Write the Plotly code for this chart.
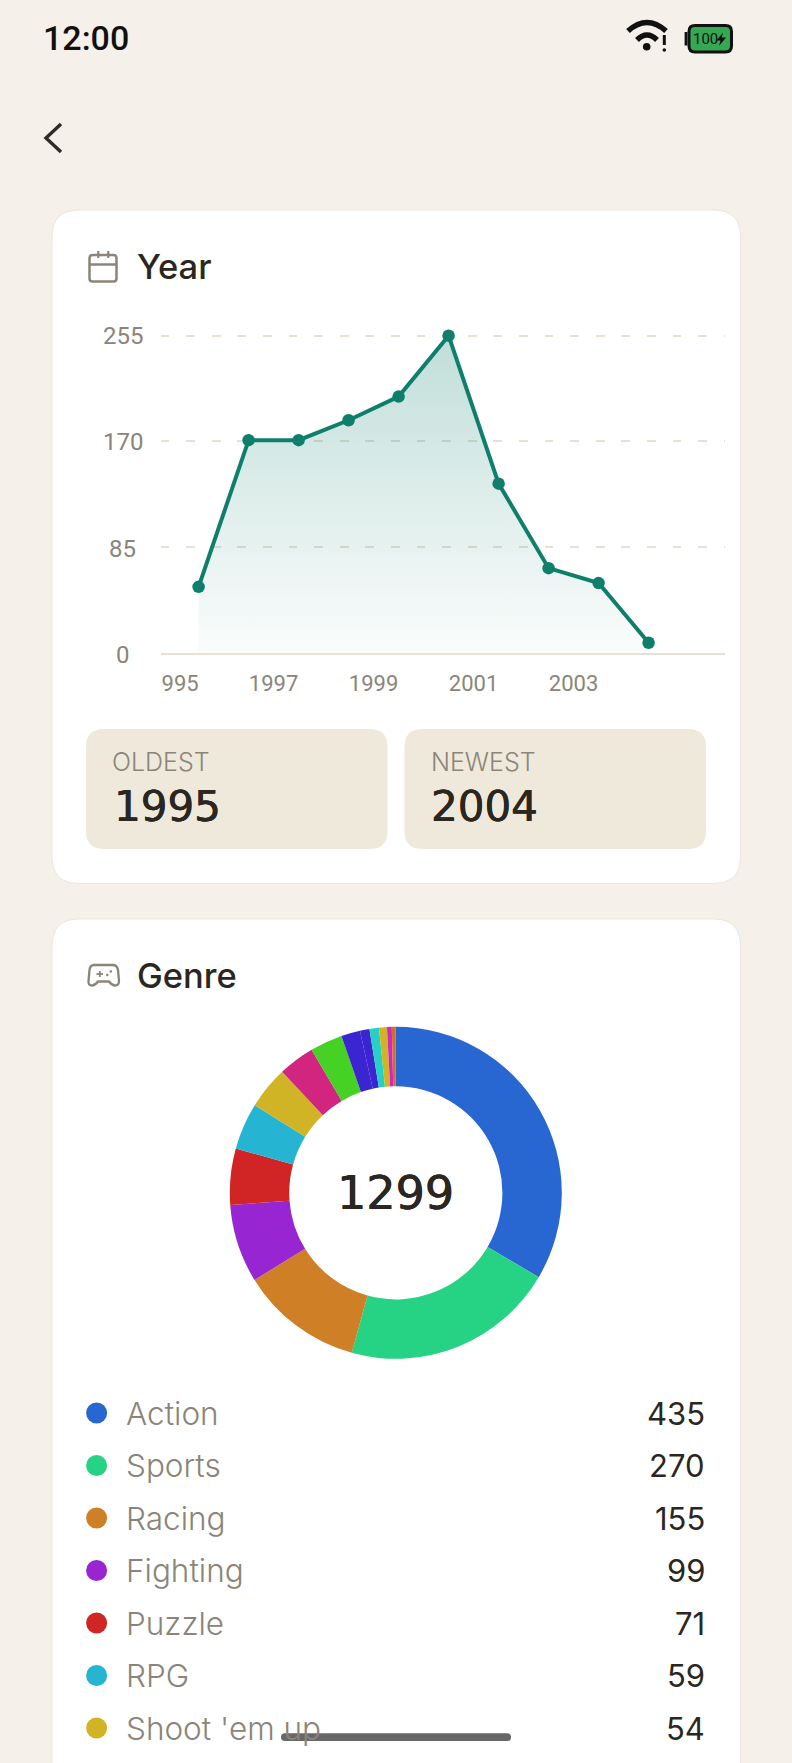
import plotly.graph_objects as go

W, H = 792, 1763

# ---------- data ----------
years = [1995, 1996, 1997, 1998, 1999, 2000, 2001, 2002, 2003, 2004]
year_counts = [53, 171, 171, 187, 206, 255, 136, 68, 56, 8]
y_ticks = [0, 85, 170, 255]
x_tick_labels = ["995", "1997", "1999", "2001", "2003"]
x_tick_vals = [1994.63, 1996.5, 1998.5, 2000.5, 2002.5]

genre_names = ["Action", "Sports", "Racing", "Fighting", "Puzzle", "RPG", "Shoot 'em up"]
genre_values = [435, 270, 155, 99, 71, 59, 54]
other_values = [46, 41, 24, 12, 12, 10, 6, 5]
genre_colors = ["#2867d2", "#26d385", "#cf7f25", "#9725d1", "#d12525", "#25b4d1", "#d1b425"]
other_colors = ["#d1257f", "#46d125", "#3a25d1", "#3a25d1", "#25d1c4", "#d1b425", "#d125c4", "#d17025"]
total_label = "1299"

# ---------- styles ----------
BG = "#f5f1ea"
BORDER = "#ece6d9"
TILE = "#efe9dc"
DARK = "#2b2720"
MUTED = "#8a8578"
GRID = "#e8e0d2"
TEAL = "#0f7f6c"
THICK = "0.4px 0 0 #2b2720, -0.3px 0 0 #2b2720"


def px(x):
    return x / W


def py(y):
    return 1 - y / H


def P(x, y):
    return f"{px(x):.6f},{py(y):.6f}"


def rrect(x0, y0, x1, y1, r):
    return (
        f"M{P(x0 + r, y0)} L{P(x1 - r, y0)} Q{P(x1, y0)} {P(x1, y0 + r)} "
        f"L{P(x1, y1 - r)} Q{P(x1, y1)} {P(x1 - r, y1)} "
        f"L{P(x0 + r, y1)} Q{P(x0, y1)} {P(x0, y1 - r)} "
        f"L{P(x0, y0 + r)} Q{P(x0, y0)} {P(x0 + r, y0)} Z"
    )


shapes = []


def path(d, fill=None, line=None, width=0, layer="below"):
    shapes.append(dict(
        type="path", xref="paper", yref="paper", path=d, layer=layer,
        fillcolor=fill or "rgba(0,0,0,0)",
        line=dict(color=line or "rgba(0,0,0,0)", width=width),
    ))


def stroke(width, color, *pts):
    d = "M" + " L".join(P(*p) for p in pts)
    path(d, line=color, width=width)


def curve(width, color, a, c, b):
    path(f"M{P(*a)} Q{P(*c)} {P(*b)}", line=color, width=width)


def circle(cx, cy, r, color):
    path(
        f"M{P(cx - r, cy)} Q{P(cx - r, cy - r)} {P(cx, cy - r)} Q{P(cx + r, cy - r)} {P(cx + r, cy)} "
        f"Q{P(cx + r, cy + r)} {P(cx, cy + r)} Q{P(cx - r, cy + r)} {P(cx - r, cy)} Z",
        fill=color,
    )


# cards and tiles
path(rrect(52, 210, 740.5, 883.5, 27), fill="white", line=BORDER, width=1)
path(rrect(52, 919, 740.5, 1810, 27), fill="white", line=BORDER, width=1)
path(rrect(86, 729, 387.5, 849, 18), fill=TILE)
path(rrect(404.5, 729, 706, 849, 18), fill=TILE)

# back chevron
stroke(3.4, "#2f2b26", (61, 124), (46, 138), (61, 152))

# wifi
curve(5.5, "#111", (628, 31), (647, 14), (666, 31))
curve(5.5, "#111", (637, 40), (647, 30), (657, 40))
circle(646.7, 46.7, 3.8, "#111")
stroke(3, "#111", (664.3, 35), (664.3, 45))
circle(664.3, 50, 1.8, "#111")

# battery
path(rrect(689, 25.5, 731.5, 52, 6), fill="#34a853", line="#111", width=3)
stroke(2.8, "#111", (686, 32), (686, 45.5))
path(f"M{P(723, 32.5)} L{P(716.5, 40.5)} L{P(720.5, 40.5)} L{P(719, 46)} L{P(726, 37.5)} L{P(721.8, 37.5)} Z", fill="#111")

# calendar icon
path(rrect(89.5, 255, 116.5, 281.5, 3), line=MUTED, width=2.5)
stroke(2.5, MUTED, (89.5, 264.5), (116.5, 264.5))
stroke(2.2, MUTED, (98.3, 251), (98.3, 258))
stroke(2.2, MUTED, (108.3, 251), (108.3, 258))

# gamepad icon
path(
    f"M{P(94, 965)} L{P(113, 965)} Q{P(117, 965)} {P(118, 970)} L{P(119, 981)} "
    f"Q{P(119, 985.5)} {P(115, 985.5)} Q{P(112, 985.5)} {P(109, 981.5)} L{P(98, 981.5)} "
    f"Q{P(95, 985.5)} {P(92, 985.5)} Q{P(88, 985.5)} {P(88.5, 981)} L{P(89.5, 970)} "
    f"Q{P(90, 965)} {P(94, 965)} Z",
    line=MUTED, width=2.3,
)
stroke(1.8, MUTED, (96.5, 974), (103, 974))
stroke(1.8, MUTED, (99.8, 971), (99.8, 977))
circle(107.3, 975, 1.3, MUTED)
circle(110.8, 971.5, 1.3, MUTED)

# home indicator
shapes.append(dict(
    type="path", xref="paper", yref="paper", layer="above",
    path=rrect(281, 1733.3, 511, 1741, 3.8), fillcolor="#5f5f5f", opacity=0.95,
    line=dict(width=0),
))

annotations = []


def text(s, x, y, size, color=DARK, family="Inter", weight=400, anchor="left", shadow=None):
    font = dict(family=family, size=size, color=color, weight=weight)
    if shadow:
        font["shadow"] = shadow
    annotations.append(dict(
        text=s, x=px(x), y=py(y), xref="paper", yref="paper", showarrow=False,
        xanchor=anchor, yanchor="middle", borderpad=0, font=font,
    ))


text("12:00", 41.5, 38.5, 34, "#111", "Roboto", 500)
text("100", 705.5, 39, 15, "#111", "Roboto", 400, "center")
text("Year", 136, 266.5, 34.5, DARK, "Inter", 500)
text("Genre", 136, 975.5, 34.5, DARK, "Inter", 500)
text("OLDEST", 110.5, 761.5, 25, MUTED, "Inter", 300)
text("NEWEST", 429.5, 761.5, 25, MUTED, "Inter", 300)
text("1995", 113, 806, 42, DARK, "DejaVu Sans", 400, shadow=THICK)
text("2004", 430, 806, 42, DARK, "DejaVu Sans", 400, shadow=THICK)
text(total_label, 395.8, 1193, 46, DARK, "DejaVu Sans", 400, "center", shadow=THICK)

# y tick labels are centred in their gutter and spread slightly wider than the grid
for v in y_ticks:
    annotations.append(dict(
        text=str(v), x=px(122.5), y=v, xref="paper", yref="y", showarrow=False,
        xanchor="center", yanchor="middle", borderpad=0,
        yshift=-(255 - v) / 255 * 2.3,
        font=dict(family="Roboto", size=24, color=MUTED),
    ))

# ---------- figure ----------
fig = go.Figure()

fig.add_trace(go.Scatter(
    x=years, y=year_counts, mode="lines+markers", fill="tozeroy",
    line=dict(color=TEAL, width=4),
    marker=dict(color=TEAL, size=12.5),
    fillgradient=dict(
        type="vertical", start=0, stop=255,
        colorscale=[[0, "rgba(15,127,108,0.02)"], [1, "rgba(15,127,108,0.26)"]],
    ),
    cliponaxis=False, hoverinfo="skip", showlegend=False,
))

CX, CY, R = 395.8, 1192.8, 166
fig.add_trace(go.Pie(
    values=genre_values + other_values,
    marker=dict(colors=genre_colors + other_colors, line=dict(width=0)),
    hole=0.642, sort=False, direction="clockwise", rotation=0,
    textinfo="none", hoverinfo="skip", showlegend=False,
    domain=dict(x=[px(CX - R), px(CX + R)], y=[py(CY + R), py(CY - R)]),
))

# legend rows on their own hidden axes
row_idx = list(range(len(genre_names)))
fig.add_trace(go.Scatter(
    x=[96.6] * len(genre_names), y=row_idx, mode="markers",
    marker=dict(color=genre_colors, size=21, line=dict(width=0)),
    xaxis="x2", yaxis="y2", cliponaxis=False, hoverinfo="skip", showlegend=False,
))
for i, (name, val) in enumerate(zip(genre_names, genre_values)):
    annotations.append(dict(
        text=name, x=124.5, y=i, xref="x2", yref="y2", showarrow=False,
        xanchor="left", yanchor="middle", borderpad=0,
        font=dict(family="Inter", size=31.5, color=MUTED, weight=300),
    ))
    annotations.append(dict(
        text=str(val), x=705.5, y=i, xref="x2", yref="y2", showarrow=False,
        xanchor="right", yanchor="middle", borderpad=0,
        font=dict(family="Inter", size=31, color=DARK, weight=400),
    ))

x_left, x_right = 160.6, 724.7
per_year = 50.0
px_per_unit = (652.7 - 335.7) / 255
y_top = 262
fig.update_layout(
    width=W, height=H, margin=dict(l=0, r=0, t=0, b=0),
    paper_bgcolor=BG, plot_bgcolor="rgba(0,0,0,0)", showlegend=False,
    shapes=shapes, annotations=annotations, hovermode=False,
    xaxis=dict(
        domain=[px(x_left), px(x_right)],
        range=[1995 + (x_left - 198.6) / per_year, 1995 + (x_right - 198.6) / per_year],
        tickmode="array", tickvals=x_tick_vals, ticktext=x_tick_labels,
        tickfont=dict(family="Roboto", size=22, color=MUTED),
        ticks="", showgrid=False, zeroline=False, showline=True,
        linecolor=GRID, linewidth=2, ticklabelstandoff=10,
    ),
    yaxis=dict(
        domain=[py(652.7), py(652.7 - y_top * px_per_unit)], range=[0, y_top],
        tickmode="array", tickvals=y_ticks, showticklabels=False, ticks="",
        showgrid=True, gridcolor=GRID, gridwidth=2, griddash="8.7px,16.9px",
        zeroline=False, showline=False,
    ),
    xaxis2=dict(domain=[0, 1], range=[0, W], visible=False, anchor="y2"),
    yaxis2=dict(
        domain=[0, py(1387)],
        range=[(1763 - 1413) / 52.5, (1387 - 1413) / 52.5],
        visible=False, anchor="x2",
    ),
)

fig.write_html(
    "out.html",
    config=dict(displayModeBar=False),
    post_script="document.body.style.margin='0';document.documentElement.style.overflow='hidden';",
)
